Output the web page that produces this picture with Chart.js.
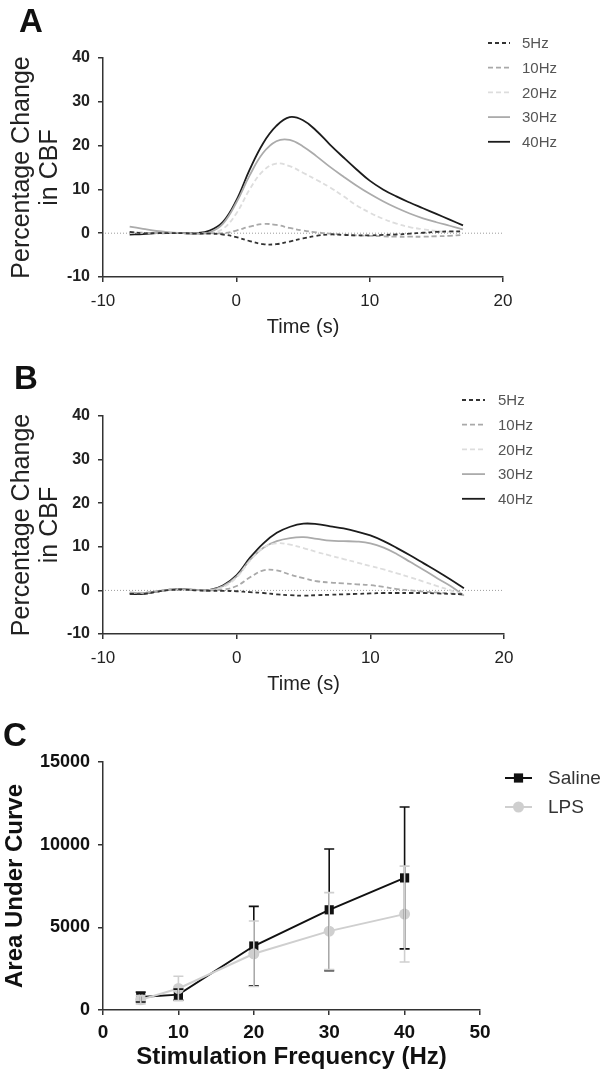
<!DOCTYPE html>
<html>
<head>
<meta charset="utf-8">
<script src="https://cdn.jsdelivr.net/npm/chart.js@4.4.0/dist/chart.umd.min.js"></script>
<style>
  body { margin: 0; background: #fff; width: 607px; height: 1073px; position: relative; overflow: hidden; font-family: 'Liberation Sans', Arial, sans-serif; }
  .panel { position: absolute; left: 0; width: 607px; }
  .tag { position: absolute; font-weight: bold; font-size: 33px; line-height: 33px; color: #111; }
</style>
</head>
<body>
<div class="panel" style="top:0;height:340px"><canvas id="chartA"></canvas></div>
<div class="panel" style="top:340px;height:357px"><canvas id="chartB"></canvas></div>
<div class="panel" style="top:697px;height:376px"><canvas id="chartC"></canvas></div>
<div class="tag" style="left:19px;top:4px">A</div>
<div class="tag" style="left:14px;top:361px">B</div>
<div class="tag" style="left:3px;top:718px">C</div>

<script>
// time axis (s) shared by panels A and B
const timeSec = [-8, -7, -6, -5, -4, -3, -2, -1, 0, 1, 2, 3, 4, 5, 6, 7, 8, 9, 10, 11, 12, 13, 14, 15, 16, 17];
const freqLabels = ['5Hz', '10Hz', '20Hz', '30Hz', '40Hz'];

// Panel A - saline, % change in CBF
const a5Hz  = [0.3, 0.0, 0.0, 0.0, 0.0, -0.1, -0.1, -0.3, -0.9, -1.8, -2.5, -2.5, -1.9, -1.2, -0.6, -0.3, -0.4, -0.5, -0.5, -0.4, -0.3, -0.1, 0.1, 0.3, 0.4, 0.4];
const a10Hz = [0.2, 0.1, 0.0, 0.0, 0.0, 0.0, 0.0, 0.0, 0.6, 1.5, 2.1, 1.9, 1.2, 0.6, 0.2, -0.1, -0.3, -0.5, -0.6, -0.7, -0.8, -0.8, -0.8, -0.7, -0.6, -0.4];
const a20Hz = [0.0, 0.0, 0.0, 0.0, 0.0, -0.1, 0.0, 1.0, 4.5, 10.0, 14.2, 15.9, 15.3, 13.8, 12.2, 10.5, 8.5, 6.4, 4.7, 3.3, 2.2, 1.4, 0.9, 0.5, 0.3, 0.3];
const a30Hz = [1.5, 1.0, 0.5, 0.2, 0.0, -0.2, 0.2, 2.2, 7.0, 13.2, 18.3, 21.0, 21.3, 19.8, 17.6, 15.2, 13.0, 10.9, 9.0, 7.3, 5.8, 4.5, 3.4, 2.5, 1.7, 0.9];
const a40Hz = [-0.3, -0.2, 0.0, 0.0, 0.0, 0.0, 0.6, 2.6, 7.5, 14.5, 20.5, 24.5, 26.5, 25.8, 23.4, 20.3, 17.4, 14.6, 12.0, 10.0, 8.4, 7.0, 5.7, 4.4, 3.1, 1.8];

// Panel B - LPS, % change in CBF
const b5Hz  = [-0.8, -0.8, -0.3, 0.1, 0.2, 0.0, -0.1, -0.1, -0.2, -0.4, -0.6, -0.9, -1.1, -1.2, -1.1, -1.0, -0.9, -0.8, -0.7, -0.6, -0.6, -0.6, -0.6, -0.7, -0.8, -0.9];
const b10Hz = [-0.5, -0.6, -0.2, 0.2, 0.3, 0.1, 0.0, 0.2, 1.0, 3.0, 4.6, 4.6, 3.6, 2.8, 2.1, 1.8, 1.6, 1.4, 1.2, 0.8, 0.3, 0.0, -0.3, -0.5, -0.7, -1.0];
const b20Hz = [-0.5, -0.5, -0.2, 0.2, 0.3, 0.1, 0.0, 0.8, 3.0, 6.8, 9.8, 10.8, 10.5, 9.7, 8.8, 8.0, 7.2, 6.4, 5.6, 4.8, 3.9, 3.0, 2.0, 1.0, 0.0, -1.0];
const b30Hz = [-0.5, -0.6, -0.2, 0.2, 0.3, 0.1, 0.1, 1.0, 3.2, 7.0, 9.8, 11.3, 12.0, 12.2, 11.8, 11.4, 11.3, 11.2, 10.8, 9.8, 8.3, 6.5, 4.7, 2.8, 1.0, -1.2];
const b40Hz = [-0.8, -0.8, -0.3, 0.2, 0.3, 0.1, 0.1, 1.2, 3.5, 7.5, 10.8, 13.2, 14.6, 15.3, 15.2, 14.7, 14.2, 13.5, 12.6, 11.3, 9.7, 8.0, 6.2, 4.4, 2.5, 0.5];

// Panel C - area under curve vs stimulation frequency
const stimFreq = [5, 10, 20, 30, 40];
const salineAUC = [780, 930, 3870, 6060, 7990];
const salineSEM = [300, 330, 2400, 3680, 4290];
const lpsAUC = [620, 1300, 3400, 4770, 5800];
const lpsSEM = [250, 740, 1980, 2330, 2900];

const yTicksA = [-10, 0, 10, 20, 30, 40];
const xTicksA = [-10, 0, 10, 20];

const FONT = "'Liberation Sans', Arial, sans-serif";
const lineStyles = [
    { color: '#333333', dash: [4, 3] },
    { color: '#a9a9a9', dash: [5, 3] },
    { color: '#dddddd', dash: [5, 3] },
    { color: '#ababab', dash: [] },
    { color: '#1c1c1c', dash: [] }
];

// dotted line at y = 0
const zeroLine = {
    id: 'zeroLine',
    beforeDatasetsDraw(chart) {
        const { ctx, chartArea } = chart;
        const y = chart.scales.y.getPixelForValue(0);
        ctx.save();
        ctx.strokeStyle = '#9c9c9c';
        ctx.lineWidth = 1;
        ctx.setLineDash([1, 2]);
        ctx.beginPath();
        ctx.moveTo(chartArea.left + 2, y);
        ctx.lineTo(chartArea.right, y);
        ctx.stroke();
        ctx.restore();
    }
};

// legend drawn at a fixed spot, from the datasets
const sideLegend = {
    id: 'sideLegend',
    afterDraw(chart, args, o) {
        const ctx = chart.ctx;
        const items = chart.data.datasets;
        ctx.save();
        ctx.font = o.font;
        ctx.textBaseline = 'middle';
        items.forEach((ds, i) => {
            const y = o.top + i * o.step;
            ctx.strokeStyle = ds.borderColor;
            ctx.lineWidth = ds.borderWidth;
            ctx.setLineDash(ds.borderDash || []);
            ctx.beginPath();
            ctx.moveTo(o.from, y);
            ctx.lineTo(o.to, y);
            ctx.stroke();
            ctx.setLineDash([]);
            if (ds.pointRadius) {
                const cx = (o.from + o.to) / 2;
                ctx.fillStyle = ds.pointBackgroundColor;
                if (ds.pointStyle === 'rect') {
                    const s = ds.pointRadius * Math.SQRT1_2;
                    ctx.fillRect(cx - s, y - s, 2 * s, 2 * s);
                } else {
                    ctx.beginPath();
                    ctx.arc(cx, y, ds.pointRadius, 0, Math.PI * 2);
                    ctx.fill();
                }
            }
            ctx.fillStyle = o.color;
            ctx.fillText(ds.label, o.textX, y + 1);
        });
        ctx.restore();
    }
};

// SEM error bars for panel C
const errorBars = {
    id: 'errorBars',
    afterDatasetsDraw(chart, args, o) {
        const { ctx, scales } = chart;
        ctx.save();
        o.sets.forEach(set => {
            ctx.strokeStyle = set.color;
            ctx.lineWidth = 1.6;
            set.mean.forEach((m, i) => {
                const x = scales.x.getPixelForValue(stimFreq[i]);
                const yTop = scales.y.getPixelForValue(m + set.sem[i]);
                const yBot = scales.y.getPixelForValue(m - set.sem[i]);
                ctx.beginPath();
                ctx.moveTo(x, yTop); ctx.lineTo(x, yBot);
                ctx.moveTo(x - 5, yTop); ctx.lineTo(x + 5, yTop);
                ctx.moveTo(x - 5, yBot); ctx.lineTo(x + 5, yBot);
                ctx.stroke();
            });
        });
        ctx.restore();
    }
};

function timeDatasets(series) {
    return series.map((vals, i) => ({
        label: freqLabels[i],
        data: vals.map((v, k) => ({ x: timeSec[k], y: v })),
        borderColor: lineStyles[i].color,
        borderDash: lineStyles[i].dash,
        borderWidth: 1.8,
        pointRadius: 0,
        tension: 0.4,
        fill: false
    }));
}

function tickList(values) {
    return function (scale) { scale.ticks = values.map(v => ({ value: v })); };
}

function timeChart(id, series, pad, legend) {
    return new Chart(document.getElementById(id), {
        type: 'line',
        data: { datasets: timeDatasets(series) },
        options: {
            responsive: true,
            maintainAspectRatio: false,
            animation: false,
            layout: { padding: pad },
            plugins: { legend: { display: false }, tooltip: { enabled: false }, sideLegend: legend },
            scales: {
                x: {
                    type: 'linear', min: -10, max: 20,
                    afterBuildTicks: tickList(xTicksA),
                    ticks: { color: '#222', font: { family: FONT, size: 17 }, padding: 9, maxRotation: 0 },
                    grid: { drawOnChartArea: false, color: '#333', tickLength: 5, lineWidth: 1.5 },
                    border: { color: '#333', width: 1.5 },
                    title: { display: true, text: 'Time (s)', color: '#222', font: { family: FONT, size: 20, lineHeight: 1.2 }, padding: { top: 0, bottom: 1 } },
                    afterFit(s) { s.height = 63; }
                },
                y: {
                    type: 'linear', min: -10, max: 40,
                    afterBuildTicks: tickList(yTicksA),
                    ticks: { color: '#222', font: { family: FONT, size: 16, weight: 'bold' }, padding: 8 },
                    grid: { drawOnChartArea: false, color: '#333', tickLength: 5, lineWidth: 1.5 },
                    border: { color: '#333', width: 1.5 },
                    title: { display: true, text: ['Percentage Change', 'in CBF'], color: '#222', font: { family: FONT, size: 25, lineHeight: 1.12 }, padding: { top: 8, bottom: 0 } },
                    afterFit(s) { s.width = 103; }
                }
            }
        },
        plugins: [zeroLine, sideLegend]
    });
}

timeChart('chartA', [a5Hz, a10Hz, a20Hz, a30Hz, a40Hz],
    { left: 0, top: 58, right: 104, bottom: 0 },
    { font: '15px ' + FONT, color: '#555', top: 43, step: 24.7, from: 488, to: 510, textX: 522 });

timeChart('chartB', [b5Hz, b10Hz, b20Hz, b30Hz, b40Hz],
    { left: 0, top: 76, right: 103, bottom: 0 },
    { font: '15px ' + FONT, color: '#555', top: 60, step: 24.7, from: 462, to: 485, textX: 498 });

new Chart(document.getElementById('chartC'), {
    type: 'line',
    data: {
        datasets: [
            {
                label: 'Saline',
                data: stimFreq.map((f, i) => ({ x: f, y: salineAUC[i] })),
                borderColor: '#111', backgroundColor: '#111', borderWidth: 2,
                pointStyle: 'rect', pointRadius: 6.5, pointBackgroundColor: '#111', pointBorderWidth: 0,
                tension: 0, order: 1
            },
            {
                label: 'LPS',
                data: stimFreq.map((f, i) => ({ x: f, y: lpsAUC[i] })),
                borderColor: '#cfcfcf', backgroundColor: '#cfcfcf', borderWidth: 2,
                pointStyle: 'circle', pointRadius: 5.5, pointBackgroundColor: '#cfcfcf', pointBorderWidth: 0,
                tension: 0, order: 0
            }
        ]
    },
    options: {
        responsive: true,
        maintainAspectRatio: false,
        animation: false,
        layout: { padding: { left: 0, top: 65, right: 127, bottom: 0 } },
        plugins: {
            legend: { display: false },
            tooltip: { enabled: false },
            sideLegend: { font: '19px ' + FONT, color: '#333', top: 81, step: 29, from: 505, to: 532, textX: 548 },
            errorBars: {
                sets: [
                    { mean: salineAUC, sem: salineSEM, color: '#111' },
                    { mean: lpsAUC, sem: lpsSEM, color: '#cfcfcf' }
                ]
            }
        },
        scales: {
            x: {
                type: 'linear', min: 0, max: 50,
                ticks: { stepSize: 10, color: '#111', font: { family: FONT, size: 19, weight: 'bold' }, padding: 6, maxRotation: 0 },
                grid: { drawOnChartArea: false, color: '#333', tickLength: 5, lineWidth: 1.5 },
                border: { color: '#333', width: 1.5 },
                title: { display: true, text: 'Stimulation Frequency (Hz)', color: '#111', font: { family: FONT, size: 24, weight: 'bold', lineHeight: 1.1 }, padding: { top: 0, bottom: 2 } },
                afterFit(s) { s.height = 63; }
            },
            y: {
                type: 'linear', min: 0, max: 15000,
                ticks: { stepSize: 5000, color: '#111', font: { family: FONT, size: 18, weight: 'bold' }, padding: 8, callback: v => String(v) },
                grid: { drawOnChartArea: false, color: '#333', tickLength: 5, lineWidth: 1.5 },
                border: { color: '#333', width: 1.5 },
                title: { display: true, text: 'Area Under Curve', color: '#111', font: { family: FONT, size: 24, weight: 'bold', lineHeight: 1.1 }, padding: { top: 2, bottom: 0 } },
                afterFit(s) { s.width = 103; }
            }
        }
    },
    plugins: [sideLegend, errorBars]
});
</script>
</body>
</html>
